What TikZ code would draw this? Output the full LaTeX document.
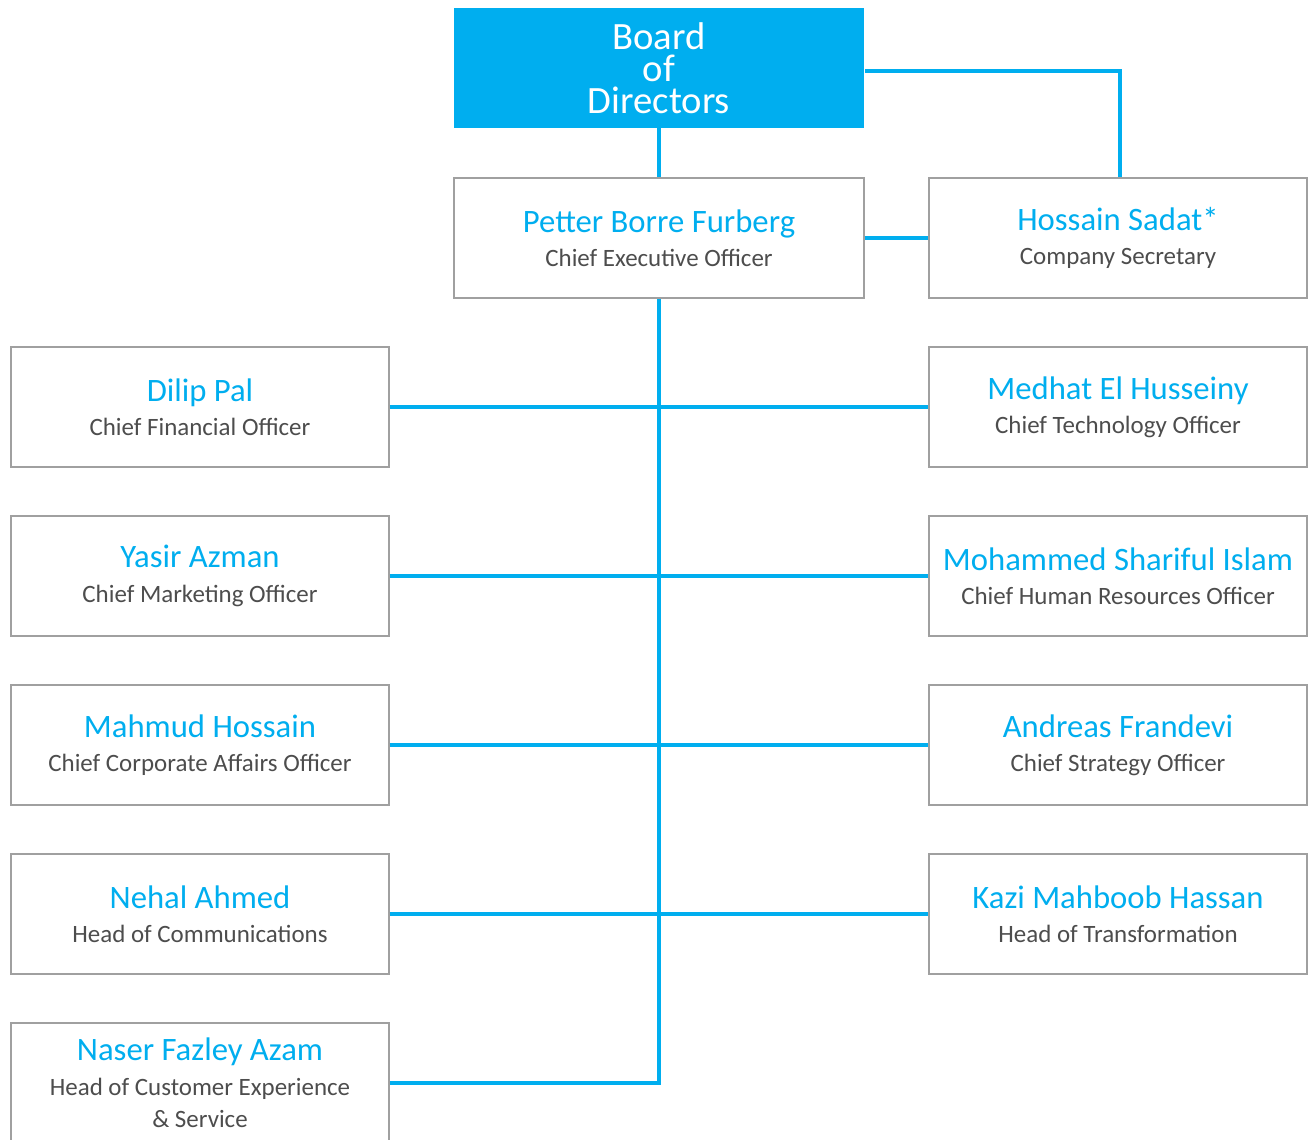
\documentclass[tikz,border=0pt]{standalone}
\usepackage{fontspec}
\setmainfont{Carlito}
\usepackage{tikz}
\usetikzlibrary{positioning, calc}
\usepackage{xcolor}
\definecolor{gpblue}{HTML}{00AEEF}
\definecolor{gptext}{HTML}{4D4D4D}
\definecolor{gpframe}{HTML}{A0A0A0}

\newcommand{\pname}[1]{{\fontsize{18.6}{19}\selectfont\color{gpblue}#1}}

\begin{document}
\begin{tikzpicture}[
    x=0.02cm, y=-0.02cm,
    % Node styles
    board/.style={rectangle, fill=gpblue, text=white, minimum width=8.22cm, minimum height=2.4cm, align=center, font=\fontsize{22}{18.2}\selectfont, inner sep=0pt},
    person/.style={rectangle, draw=gpframe, line width=0.8pt, fill=white, minimum width=7.56cm, minimum height=2.4cm, align=center, text=gptext, font=\fontsize{14.2}{19.5}\selectfont, inner sep=0pt},
    ceobox/.style={person, minimum width=8.2cm},
    link/.style={gpblue, line width=2.8pt},
]
\useasboundingbox (0,0) rectangle (1310,1139);
\begin{scope}
\clip (0,0) rectangle (1310,1139);

% Board
\node[board] (board) at (659, 68) {Board\\of\\Directors};

% CEO and secretary
\node[ceobox] (ceo) at (659, 238) {\pname{Petter Borre Furberg}\\Chief Executive Officer};
\node[person] (sadat) at (1118, 238) {\pname{Hossain Sadat*}\\Company Secretary};

% Left column
\node[person] (dilip) at (200, 407) {\pname{Dilip Pal}\\Chief Financial Officer};
\node[person] (yasir) at (200, 576) {\pname{Yasir Azman}\\Chief Marketing Officer};
\node[person] (mahmud) at (200, 745) {\pname{Mahmud Hossain}\\Chief Corporate Affairs Officer};
\node[person] (nehal) at (200, 914) {\pname{Nehal Ahmed}\\Head of Communications};
\node[person] (naser) at (200, 1083) {\pname{Naser Fazley Azam}\\Head of Customer Experience\\[-1pt]\& Service};

% Right column
\node[person] (medhat) at (1118, 407) {\pname{Medhat El Husseiny}\\Chief Technology Officer};
\node[person] (sharif) at (1118, 576) {\pname{Mohammed Shariful Islam}\\Chief Human Resources Officer};
\node[person] (andreas) at (1118, 745) {\pname{Andreas Frandevi}\\Chief Strategy Officer};
\node[person] (kazi) at (1118, 914) {\pname{Kazi Mahboob Hassan}\\Head of Transformation};

% Connectors
\coordinate (trunkend) at (naser.east -| ceo.south);
\draw[link] (board.south) -- (ceo.north);
\draw[link] ($(board.east)+(0,3)$) -| ($(sadat.north)+(2,0)$);
\draw[link] (ceo.east) -- (sadat.west);
\draw[link] (ceo.south) -- (trunkend) -- (naser.east);
\draw[link] (dilip.east) -- (medhat.west);
\draw[link] (yasir.east) -- (sharif.west);
\draw[link] (mahmud.east) -- (andreas.west);
\draw[link] (nehal.east) -- (kazi.west);
\end{scope}

\end{tikzpicture}
\end{document}
